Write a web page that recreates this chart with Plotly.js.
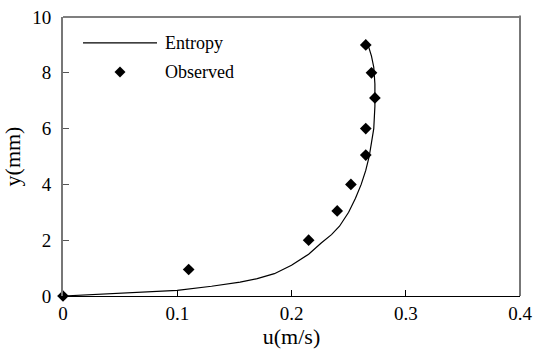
<!DOCTYPE html>
<html>
<head>
<meta charset="utf-8">
<script src="https://cdn.plot.ly/plotly-3.0.1.min.js"></script>
<style>html,body{margin:0;padding:0;background:#fff;}#chart{width:534px;height:349px;}</style>
</head>
<body>
<div id="chart"></div>
<script>
// Entropy model velocity profile
var entropyU = [0, 0.05, 0.1, 0.13, 0.155, 0.17, 0.185, 0.2, 0.215, 0.226, 0.235, 0.242, 0.25, 0.256, 0.261, 0.265, 0.268, 0.270, 0.272, 0.273, 0.273, 0.272, 0.270, 0.267];
var entropyY = [0, 0.1, 0.2, 0.35, 0.5, 0.62, 0.8, 1.1, 1.5, 1.9, 2.2, 2.5, 3.0, 3.5, 4.0, 4.5, 5.0, 5.5, 6.0, 6.8, 7.6, 8.2, 8.6, 9.0];
// Observed data
var obsU = [0, 0.11, 0.215, 0.24, 0.252, 0.265, 0.265, 0.273, 0.27, 0.265];
var obsY = [0, 0.95, 2.0, 3.05, 4.0, 5.05, 6.0, 7.1, 8.0, 9.0];
var seriesNames = ["Entropy", "Observed"];
var xTicks = [0, 0.1, 0.2, 0.3, 0.4];
var xTickText = ["0", "0.1", "0.2", "0.3", "0.4"];
var yTicks = [0, 2, 4, 6, 8, 10];

var font = "Liberation Serif, Times New Roman, serif";
var traces = [
  {x: entropyU, y: entropyY, mode: "lines", name: seriesNames[0],
   line: {color: "#000", width: 1.2}, showlegend: false},
  {x: obsU, y: obsY, mode: "markers", name: seriesNames[1],
   marker: {symbol: "diamond", size: 9, color: "#000"}, showlegend: false, cliponaxis: false}
];

// legend geometry (paper coords)
var lgLineY = 0.907, lgMarkY = 0.803;
var layout = {
  width: 534, height: 349,
  margin: {l: 63, r: 14, t: 17, b: 53},
  paper_bgcolor: "#fff", plot_bgcolor: "#fff",
  font: {family: font, color: "#000", size: 18},
  xaxis: {range: [0, 0.4], tickvals: xTicks, ticktext: xTickText, ticks: "inside", ticklen: 6,
          tickcolor: "#000", showline: true, linecolor: "#000", linewidth: 1.2, mirror: false,
          showgrid: false, zeroline: false, tickfont: {size: 19, family: font}, ticklabelstandoff: 0,
          title: {text: "u(m/s)", font: {size: 22, family: font}, standoff: 9}},
  yaxis: {range: [0, 10], tickvals: yTicks, ticks: "inside", ticklen: 6,
          tickcolor: "#555", showline: true, linecolor: "#777", linewidth: 2, mirror: false,
          showgrid: false, zeroline: false, tickfont: {size: 19, family: font}, ticklabelstandoff: 6,
          title: {text: "y(mm)", font: {size: 22, family: font}, standoff: 6}},
  shapes: [
    {type: "line", xref: "paper", yref: "paper", x0: 0, x1: 1, y0: 1, y1: 1, line: {color: "#000", width: 1.2}},
    {type: "line", xref: "paper", yref: "paper", x0: 1, x1: 1, y0: 0, y1: 1.005, line: {color: "#777", width: 2}},
    {type: "line", xref: "paper", yref: "paper", x0: 0.0438, x1: 0.2057, y0: lgLineY, y1: lgLineY, line: {color: "#000", width: 1.2}},
    {type: "path", xref: "paper", yref: "paper",
     path: "M 0.1247 " + (lgMarkY + 0.02) + " L " + (0.1247 + 0.012) + " " + lgMarkY + " L 0.1247 " + (lgMarkY - 0.02) + " L " + (0.1247 - 0.012) + " " + lgMarkY + " Z",
     fillcolor: "#000", line: {color: "#000", width: 0}}
  ],
  annotations: [
    {xref: "paper", yref: "paper", x: 0.219, y: lgLineY, xanchor: "left", yanchor: "middle", showarrow: false,
     text: seriesNames[0], font: {size: 18, family: font}},
    {xref: "paper", yref: "paper", x: 0.219, y: lgMarkY, xanchor: "left", yanchor: "middle", showarrow: false,
     text: seriesNames[1], font: {size: 18, family: font}}
  ]
};
Plotly.newPlot("chart", traces, layout, {displayModeBar: false, staticPlot: true});
</script>
</body>
</html>
